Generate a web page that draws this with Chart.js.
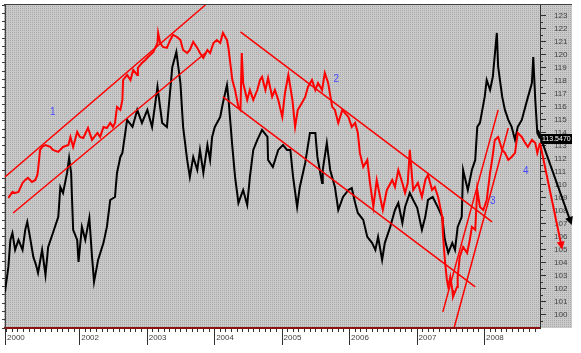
<!DOCTYPE html>
<html>
<head>
<meta charset="utf-8">
<script src="https://cdn.jsdelivr.net/npm/chart.js@4"></script>
<style>
  body { margin: 0; background: #fff; }
  canvas { display: block; }
</style>
</head>
<body>
<canvas id="myChart" width="581" height="353"></canvas>
<script>
// black series: decimal year / price
let blackDates = [2000.90, 2000.95, 2000.98, 2001.01, 2001.05, 2001.10, 2001.16, 2001.20, 2001.23, 2001.27,
  2001.32, 2001.36, 2001.39, 2001.45, 2001.50, 2001.54, 2001.61, 2001.69, 2001.72, 2001.76,
  2001.82, 2001.85, 2001.88, 2001.91, 2001.97, 2001.99, 2002.04, 2002.09, 2002.15, 2002.19,
  2002.22, 2002.28, 2002.36, 2002.41, 2002.46, 2002.53, 2002.56, 2002.61, 2002.64, 2002.71,
  2002.79, 2002.86, 2002.93, 2003.01, 2003.08, 2003.16, 2003.23, 2003.30, 2003.38, 2003.44,
  2003.50, 2003.54, 2003.60, 2003.64, 2003.69, 2003.75, 2003.79, 2003.84, 2003.90, 2003.94,
  2003.97, 2004.01, 2004.09, 2004.13, 2004.19, 2004.21, 2004.27, 2004.31, 2004.36, 2004.43,
  2004.49, 2004.53, 2004.58, 2004.64, 2004.71, 2004.79, 2004.80, 2004.87, 2004.95, 2005.02,
  2005.08, 2005.13, 2005.17, 2005.23, 2005.27, 2005.35, 2005.42, 2005.50, 2005.53, 2005.60,
  2005.61, 2005.67, 2005.72, 2005.79, 2005.84, 2005.91, 2005.99, 2006.04, 2006.09, 2006.13,
  2006.21, 2006.27, 2006.34, 2006.39, 2006.43, 2006.49, 2006.53, 2006.56, 2006.61, 2006.68,
  2006.73, 2006.79, 2006.83, 2006.90, 2006.95, 2007.01, 2007.08, 2007.13, 2007.17, 2007.24,
  2007.32, 2007.38, 2007.42, 2007.47, 2007.53, 2007.57, 2007.61, 2007.67, 2007.69, 2007.76,
  2007.82, 2007.87, 2007.90, 2007.94, 2008.01, 2008.04, 2008.09, 2008.13, 2008.19, 2008.21,
  2008.27, 2008.31, 2008.36, 2008.41, 2008.46, 2008.50, 2008.56, 2008.64, 2008.71, 2008.73,
  2008.76, 2008.79, 2008.83];
let blackValues = [101.75, 103.67, 105.75, 106.28, 104.98, 105.75, 104.98, 106.52, 107.13, 105.98,
  104.44, 103.82, 103.21, 104.98, 103.05, 105.21, 106.28, 107.52, 109.82, 109.36,
  110.90, 112.05, 110.90, 106.52, 105.75, 104.05, 106.75, 105.75, 107.44, 104.44,
  102.52, 104.21, 105.52, 106.75, 108.82, 109.05, 110.90, 112.13, 112.44, 114.98,
  114.44, 115.75, 114.75, 115.75, 114.44, 117.52, 114.75, 114.44, 119.05, 120.21,
  117.82, 114.44, 111.90, 110.59, 112.13, 111.13, 112.67, 110.90, 113.05, 111.90,
  113.67, 114.44, 115.21, 116.28, 117.67, 116.75, 112.90, 110.59, 108.59, 109.59,
  108.44, 110.59, 112.67, 113.44, 114.21, 113.67, 111.90, 111.36, 112.67, 113.05,
  112.67, 112.67, 110.59, 108.28, 109.82, 111.67, 113.98, 113.98, 112.13, 110.13,
  111.13, 113.21, 111.13, 109.82, 108.05, 109.05, 109.59, 109.74, 108.59, 107.82,
  107.29, 105.98, 105.52, 104.98, 105.98, 104.21, 105.52, 105.98, 106.75, 108.05,
  108.59, 107.05, 108.28, 109.36, 108.82, 108.21, 106.52, 107.52, 108.82, 109.05,
  108.21, 107.52, 105.75, 104.75, 105.52, 104.98, 106.75, 107.52, 111.13, 109.59,
  111.13, 111.90, 114.44, 114.75, 116.75, 118.05, 117.28, 118.28, 121.67, 119.05,
  116.75, 115.75, 114.98, 114.44, 113.44, 114.44, 114.98, 116.52, 117.82, 119.82,
  116.52, 113.98, 113.55];

// red series: decimal year / price
let redDates = [2000.95, 2001.01, 2001.05, 2001.10, 2001.16, 2001.20, 2001.24, 2001.30, 2001.35, 2001.38,
  2001.39, 2001.42, 2001.45, 2001.50, 2001.57, 2001.61, 2001.69, 2001.76, 2001.84, 2001.87,
  2001.91, 2001.97, 2002.01, 2002.06, 2002.13, 2002.19, 2002.27, 2002.31, 2002.36, 2002.41,
  2002.46, 2002.50, 2002.53, 2002.56, 2002.61, 2002.64, 2002.65, 2002.71, 2002.76, 2002.80,
  2002.86, 2002.87, 2002.93, 2002.98, 2003.02, 2003.10, 2003.16, 2003.17, 2003.20, 2003.24,
  2003.30, 2003.35, 2003.39, 2003.45, 2003.50, 2003.54, 2003.60, 2003.64, 2003.69, 2003.75,
  2003.79, 2003.84, 2003.90, 2003.94, 2003.99, 2004.04, 2004.09, 2004.13, 2004.19, 2004.21,
  2004.27, 2004.31, 2004.36, 2004.39, 2004.41, 2004.43, 2004.49, 2004.53, 2004.58, 2004.64,
  2004.68, 2004.71, 2004.76, 2004.80, 2004.86, 2004.90, 2004.95, 2005.01, 2005.05, 2005.10,
  2005.16, 2005.20, 2005.24, 2005.30, 2005.35, 2005.39, 2005.45, 2005.50, 2005.54, 2005.60,
  2005.64, 2005.69, 2005.75, 2005.79, 2005.84, 2005.90, 2005.94, 2005.99, 2006.04, 2006.09,
  2006.13, 2006.16, 2006.21, 2006.27, 2006.31, 2006.36, 2006.41, 2006.46, 2006.50, 2006.56,
  2006.64, 2006.68, 2006.73, 2006.79, 2006.83, 2006.87, 2006.90, 2006.95, 2007.02, 2007.08,
  2007.13, 2007.17, 2007.23, 2007.27, 2007.32, 2007.38, 2007.39, 2007.42, 2007.45, 2007.47,
  2007.50, 2007.53, 2007.54, 2007.60, 2007.61, 2007.64, 2007.69, 2007.75, 2007.79, 2007.82,
  2007.87, 2007.90, 2007.94, 2007.99, 2008.04, 2008.09, 2008.12, 2008.16, 2008.21, 2008.27,
  2008.31, 2008.36, 2008.41, 2008.46, 2008.50, 2008.56, 2008.61, 2008.65, 2008.71, 2008.76,
  2008.79, 2008.83];
let redValues = [108.98, 109.44, 109.36, 109.44, 110.13, 110.36, 110.52, 110.21, 110.36, 110.75,
  111.13, 112.67, 112.90, 113.05, 112.90, 112.67, 112.52, 112.90, 113.05, 113.67,
  112.90, 114.05, 113.67, 113.59, 114.36, 113.44, 113.98, 113.67, 114.44, 114.36,
  114.75, 114.44, 114.75, 115.98, 115.75, 116.52, 118.05, 118.44, 118.05, 118.82,
  118.44, 118.98, 119.36, 119.59, 119.82, 120.21, 120.90, 121.67, 120.90, 120.59,
  120.52, 121.13, 121.52, 121.36, 121.13, 120.36, 120.13, 120.36, 120.98, 120.52,
  120.13, 119.75, 120.36, 120.13, 120.90, 121.13, 120.90, 121.67, 121.13, 120.59,
  118.05, 117.28, 115.98, 115.75, 120.13, 117.82, 116.52, 117.28, 116.52, 117.28,
  118.05, 118.28, 117.28, 118.21, 116.75, 117.28, 116.52, 115.21, 117.05, 118.44,
  116.52, 114.44, 115.75, 116.28, 116.75, 117.52, 118.05, 117.28, 117.82, 117.28,
  118.59, 117.82, 115.98, 115.75, 114.75, 115.75, 115.50, 115.21, 114.44, 114.75,
  113.98, 112.44, 111.36, 111.90, 110.13, 108.28, 110.36, 109.05, 108.05, 109.59,
  110.36, 109.82, 111.13, 110.13, 109.36, 110.13, 112.67, 109.59, 110.13, 109.05,
  110.36, 110.75, 109.59, 109.82, 109.05, 107.52, 106.28, 104.21, 102.67, 102.13,
  102.90, 101.90, 101.36, 102.13, 102.90, 104.44, 105.21, 104.75, 105.75, 106.75,
  106.52, 109.59, 108.28, 108.05, 108.82, 110.90, 111.90, 113.44, 113.67, 112.67,
  112.44, 111.90, 112.13, 112.44, 113.98, 113.67, 113.21, 112.90, 113.44, 113.21,
  112.44, 113.21];

// trend channels 1-3, each [start, end]
let channelDates = [[2000.90, 2003.87], [2001.02, 2003.87], [2004.39, 2008.12], [2004.13, 2007.87],
  [2007.39, 2008.21], [2007.56, 2008.36]];
let channelValues = [[110.59, 123.82], [107.82, 120.13], [121.75, 107.13], [116.75, 102.13],
  [100.21, 115.75], [99.05, 114.36]];

// forecast arrows: black, red
let arrowDates = [[2008.80, 2009.30], [2008.83, 2009.16]];
let arrowValues = [[114.2, 106.9], [113.2, 105.0]];
let arrowColors = ['#000000', '#ff0000'];

let noteLabels = ['1', '2', '3', '4'];
let noteDates = [2001.61, 2005.81, 2008.13, 2008.62];
let noteValues = [115.6, 118.1, 108.7, 111.0];

let xTickValues = [2000.90, 2002, 2003, 2004, 2005, 2006, 2007, 2008];
let xTickLabels = ['2000', '2002', '2003', '2004', '2005', '2006', '2007', '2008'];
let yTickValues = [100, 101, 102, 103, 104, 105, 106, 107, 108, 109, 110, 111,
  112, 113, 114, 115, 116, 117, 118, 119, 120, 121, 122, 123];
let lastClose = 113.547;

function toPoints(xs, ys) {
  return xs.map((x, i) => ({ x: x, y: ys[i] }));
}

function makePattern() {
  let c = document.createElement('canvas');
  c.width = 2;
  c.height = 2;
  let g = c.getContext('2d');
  g.fillStyle = '#c9c9c9';
  g.fillRect(0, 0, 2, 2);
  g.fillStyle = '#a9a9a9';
  g.fillRect(0, 0, 1, 1);
  return g.createPattern(c, 'repeat');
}

const chartDecor = {
  id: 'chartDecor',
  beforeDraw(chart) {
    const ctx = chart.ctx;
    const a = chart.chartArea;
    ctx.save();
    ctx.fillStyle = '#ffffff';
    ctx.fillRect(0, 0, chart.width, chart.height);
    ctx.fillStyle = makePattern();
    ctx.fillRect(4, 4, 568, a.bottom - 4);
    ctx.restore();
  },
  afterDraw(chart) {
    const ctx = chart.ctx;
    const a = chart.chartArea;
    const xs = chart.scales.x;
    const ys = chart.scales.y;
    ctx.save();

    // top border
    ctx.strokeStyle = '#404040';
    ctx.lineWidth = 1;
    ctx.beginPath();
    ctx.moveTo(4, 4.5);
    ctx.lineTo(572, 4.5);
    ctx.stroke();

    // month and year ticks on the time axis
    ctx.strokeStyle = '#303030';
    ctx.beginPath();
    for (let m = Math.ceil(xs.min * 12); m <= xs.max * 12; m++) {
      let px = Math.round(xs.getPixelForValue(m / 12)) + 0.5;
      ctx.moveTo(px, a.bottom + 1);
      ctx.lineTo(px, a.bottom + 4);
    }
    xTickValues.forEach(v => {
      let px = Math.round(xs.getPixelForValue(v)) + 0.5;
      ctx.moveTo(px, a.bottom + 1);
      ctx.lineTo(px, a.bottom + 17);
    });
    // half-unit ticks on the price axis
    yTickValues.forEach(v => {
      let py = Math.round(ys.getPixelForValue(v - 0.5)) + 0.5;
      ctx.moveTo(a.right, py);
      ctx.lineTo(a.right + 3, py);
    });
    ctx.stroke();

    // forecast arrows
    arrowDates.forEach((d, i) => {
      let x1 = xs.getPixelForValue(d[0]);
      let y1 = ys.getPixelForValue(arrowValues[i][0]);
      let x2 = xs.getPixelForValue(d[1]);
      let y2 = ys.getPixelForValue(arrowValues[i][1]);
      let ang = Math.atan2(y2 - y1, x2 - x1);
      ctx.strokeStyle = arrowColors[i];
      ctx.fillStyle = arrowColors[i];
      ctx.lineWidth = 2;
      ctx.beginPath();
      ctx.moveTo(x1, y1);
      ctx.lineTo(x2 - 4 * Math.cos(ang), y2 - 4 * Math.sin(ang));
      ctx.stroke();
      ctx.beginPath();
      ctx.moveTo(x2, y2);
      ctx.lineTo(x2 - 8 * Math.cos(ang) + 4 * Math.sin(ang), y2 - 8 * Math.sin(ang) - 4 * Math.cos(ang));
      ctx.lineTo(x2 - 8 * Math.cos(ang) - 4 * Math.sin(ang), y2 - 8 * Math.sin(ang) + 4 * Math.cos(ang));
      ctx.closePath();
      ctx.fill();
    });

    // last value box
    let by = Math.round(ys.getPixelForValue(lastClose));
    ctx.fillStyle = '#000000';
    ctx.fillRect(a.right + 1, by - 5, 31, 10);
    ctx.fillStyle = '#ffffff';
    ctx.font = '7px "Liberation Sans", Arial, sans-serif';
    ctx.textAlign = 'left';
    ctx.textBaseline = 'middle';
    ctx.fillText(lastClose.toFixed(4), a.right + 2, by + 0.5);

    // channel numbers
    ctx.fillStyle = '#4848ff';
    ctx.font = '10px "Liberation Sans", Arial, sans-serif';
    ctx.textAlign = 'center';
    noteLabels.forEach((t, i) => {
      ctx.fillText(t, xs.getPixelForValue(noteDates[i]), ys.getPixelForValue(noteValues[i]));
    });
    ctx.restore();
  }
};

function zeroPadding(scale) {
  scale.paddingLeft = 0;
  scale.paddingRight = 0;
  scale.paddingTop = 0;
  scale.paddingBottom = 0;
}

let datasets = [];
channelDates.forEach((d, i) => {
  datasets.push({
    label: 'channel ' + (i + 1),
    data: toPoints(d, channelValues[i]),
    borderColor: '#ff0000',
    borderWidth: 1.5,
    pointRadius: 0,
    tension: 0,
  });
});
datasets.push({
  label: 'red',
  data: toPoints(redDates, redValues),
  borderColor: '#ff0000',
  borderWidth: 2,
  pointRadius: 0,
  tension: 0,
});
datasets.push({
  label: 'black',
  data: toPoints(blackDates, blackValues),
  borderColor: '#000000',
  borderWidth: 2,
  pointRadius: 0,
  tension: 0,
});

const ctx = document.getElementById('myChart');
new Chart(ctx, {
  type: 'line',
  data: { datasets: datasets },
  plugins: [chartDecor],
  options: {
    responsive: false,
    animation: false,
    layout: { padding: { top: 5, left: 0, right: 0, bottom: 0 } },
    plugins: { legend: { display: false }, tooltip: { enabled: false } },
    scales: {
      x: {
        type: 'linear',
        min: 2000.90,
        max: 2008.83,
        afterBuildTicks: scale => {
          scale.ticks = xTickValues.map(v => ({ value: v }));
        },
        afterFit: scale => {
          scale.height = 25;
          zeroPadding(scale);
        },
        grid: { drawOnChartArea: false, drawTicks: false },
        border: { color: '#8b1010', width: 2 },
        ticks: {
          autoSkip: false,
          maxRotation: 0,
          align: 'start',
          labelOffset: 2,
          padding: 5,
          color: '#404040',
          font: { family: '"Liberation Sans", Arial, sans-serif', size: 8 },
          callback: v => xTickLabels[xTickValues.indexOf(v)],
        },
      },
      y: {
        position: 'right',
        min: 98.97,
        max: 123.82,
        afterBuildTicks: scale => {
          scale.ticks = yTickValues.map(v => ({ value: v }));
        },
        afterFit: scale => {
          scale.width = 41;
          zeroPadding(scale);
        },
        grid: { drawOnChartArea: false, drawTicks: true, tickLength: 6, tickColor: '#303030' },
        border: { color: '#303030', width: 1 },
        ticks: {
          padding: 8,
          color: '#404040',
          font: { family: '"Liberation Sans", Arial, sans-serif', size: 8 },
        },
      },
      yl: {
        type: 'linear',
        position: 'left',
        min: 0,
        max: 39,
        afterFit: scale => {
          scale.width = 5;
          zeroPadding(scale);
        },
        grid: { drawOnChartArea: false, drawTicks: true, tickLength: 3, tickColor: '#404040' },
        border: { color: '#404040', width: 1 },
        ticks: { display: false, stepSize: 1 },
      },
    },
  },
});
</script>
</body>
</html>
